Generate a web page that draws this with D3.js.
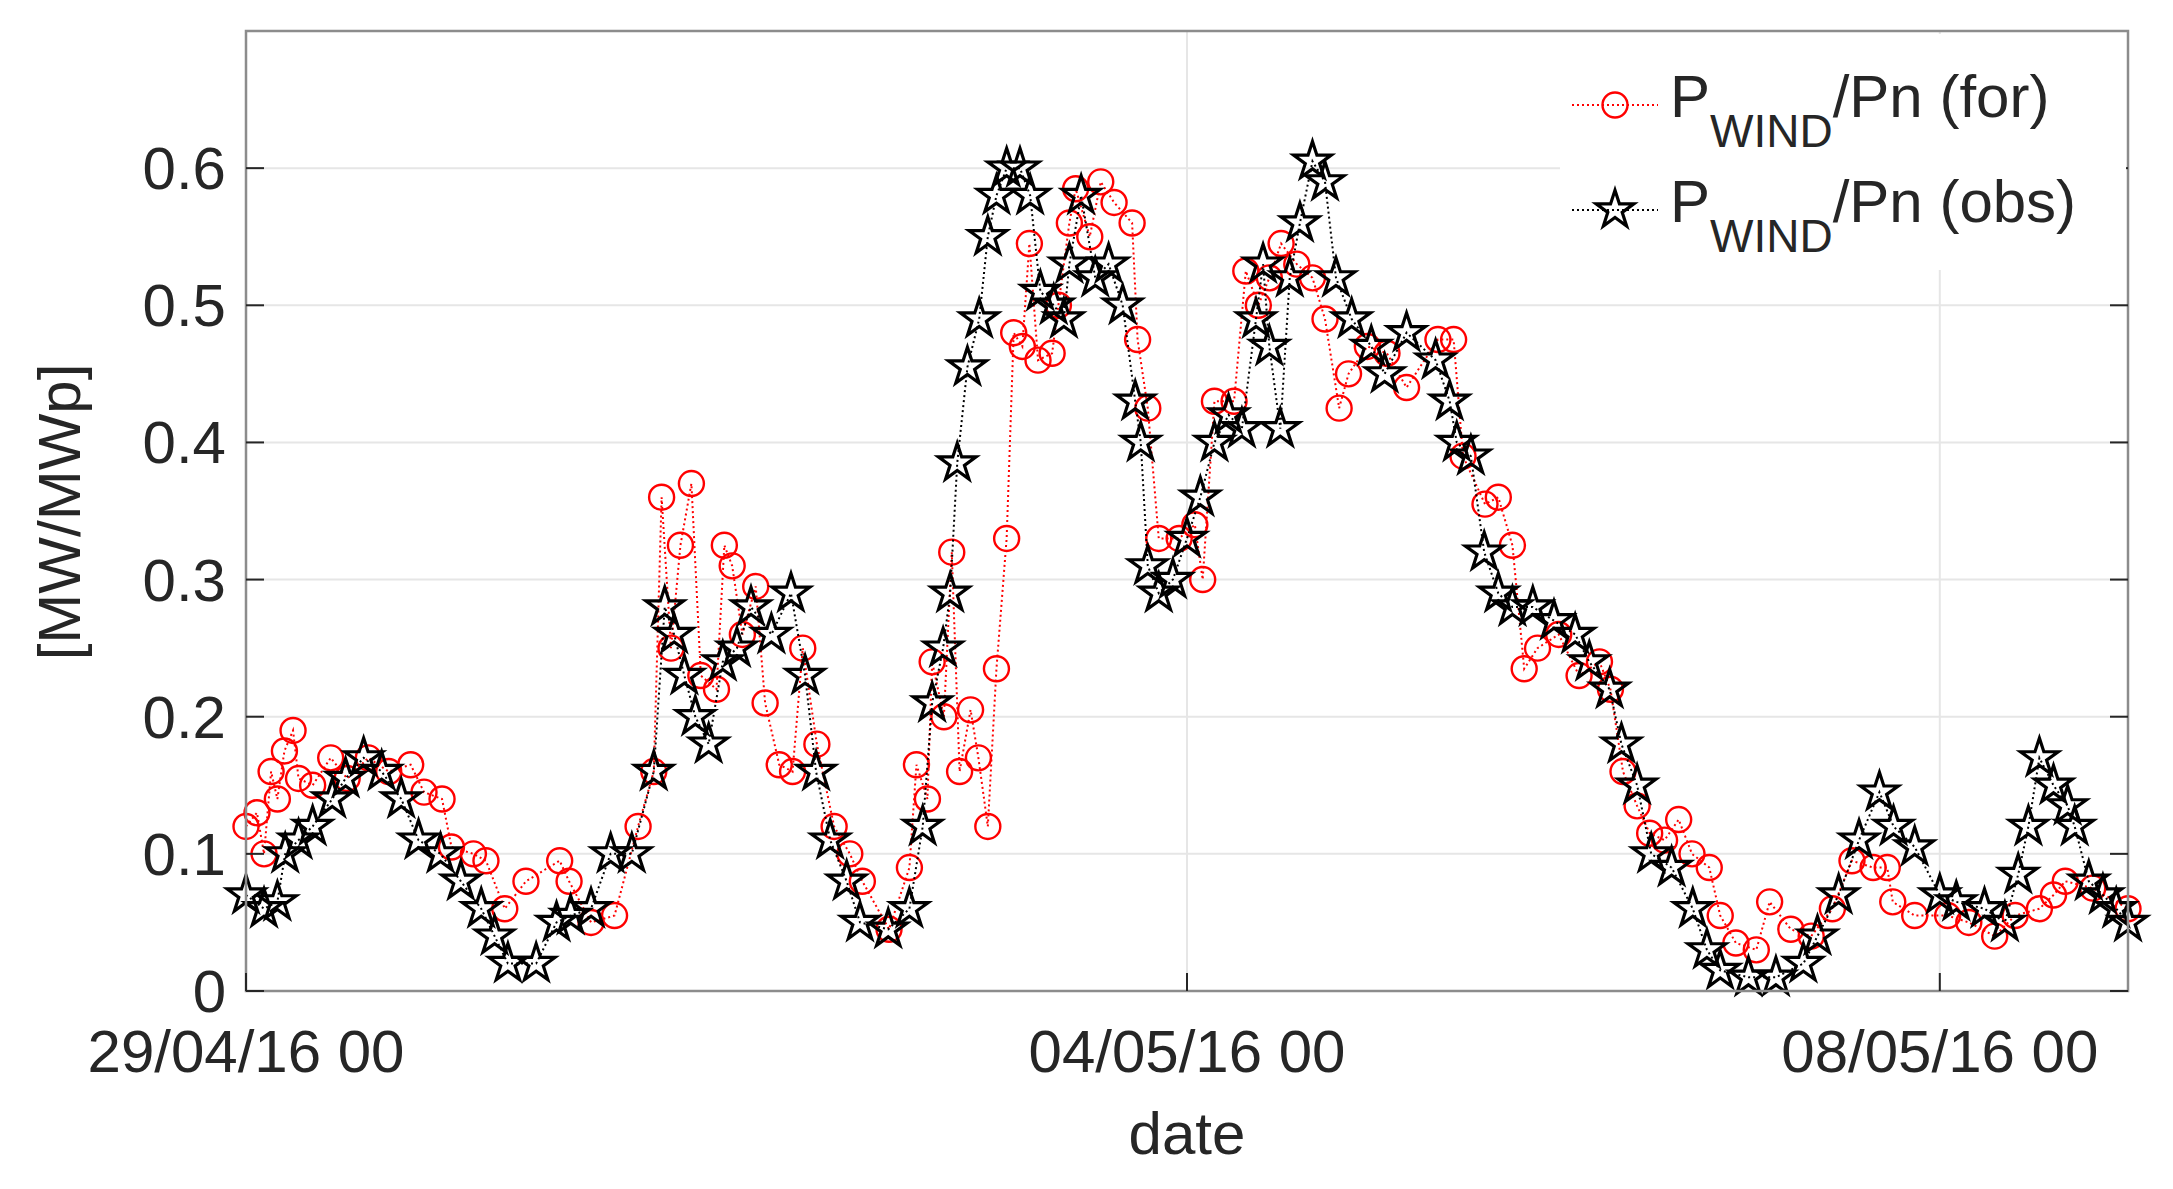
<!DOCTYPE html>
<html>
<head>
<meta charset="utf-8">
<script src="https://cdn.jsdelivr.net/npm/d3@7"></script>
<style>
  body { margin: 0; background: #fff; }
  text { font-family: "Liberation Sans", Arial, sans-serif; fill: #262626; }
</style>
</head>
<body>
<svg id="chart" width="2173" height="1189"></svg>
<script>
// hours since 29/04/16 00:00
var forHours = [0,1.4,2.3,3.2,4,4.9,6,6.7,8.5,10.8,12.9,15.6,18.2,21,22.7,25,26.2,29,30.6,33,35.7,40,41.2,44,47,50,52,53,54.2,55.4,56.8,58,60,61,62,63.3,65,66.2,68,69.7,71,72.8,75,77,78.6,82,84.6,85.5,86.9,87.5,89,90,91,92.4,93.4,94.6,95.7,97,97.9,99,99.9,101,102.8,103.6,105,105.8,107.6,109,110.7,113,113.7,115,116.4,119,121,122,123.5,126,127.5,129.1,130.5,132,134,136,137.6,139.4,140.6,143,145.5,148,152,154,155.2,158,159.7,161.5,163,164.7,167.4,170,172.6,174,175.6,177.4,179,180.9,182.7,184.4,186.6,188,190,192.6,194.3,197,199.6,202.3,204.8,207.5,209.3,210,212.8,217,219.7,223,225.6,228.7,230.5,232,235.5,240];
var forVals = [0.12,0.13,0.10,0.16,0.14,0.175,0.19,0.155,0.15,0.17,0.155,0.17,0.16,0.165,0.145,0.14,0.105,0.10,0.095,0.06,0.08,0.095,0.08,0.05,0.055,0.12,0.16,0.36,0.25,0.325,0.37,0.23,0.22,0.325,0.31,0.26,0.295,0.21,0.165,0.16,0.25,0.18,0.12,0.10,0.08,0.045,0.09,0.165,0.14,0.24,0.20,0.32,0.16,0.205,0.17,0.12,0.235,0.33,0.48,0.47,0.545,0.46,0.465,0.50,0.56,0.585,0.55,0.59,0.575,0.56,0.475,0.425,0.33,0.33,0.34,0.30,0.43,0.43,0.525,0.50,0.52,0.545,0.53,0.52,0.49,0.425,0.45,0.47,0.465,0.44,0.475,0.475,0.39,0.355,0.36,0.325,0.235,0.25,0.26,0.23,0.24,0.22,0.16,0.135,0.115,0.11,0.125,0.10,0.09,0.055,0.035,0.03,0.065,0.045,0.04,0.06,0.095,0.09,0.09,0.065,0.055,0.055,0.05,0.04,0.055,0.06,0.07,0.08,0.075,0.06];
var obsHours = [0,2.3,4,5,6.7,8.5,11,12.7,15,17.3,19.8,22,24.8,27.4,30,31.7,33.4,37,39.6,41.4,44,46.5,49.2,52,53.4,54.6,55.9,57.3,59,60.8,62.6,64.4,67,69.5,71.3,72.7,74.5,76.6,78.3,81.9,84.6,86.3,87.5,88.9,89.8,90.7,92,93.5,94.6,95.7,97,98.7,100,101.3,103,104.3,105,106.5,108.3,110,111.8,113.4,114.1,115,116.4,118.2,120,121.7,123.5,125.3,127,128.8,129.7,130.5,131.9,133.1,134.4,136,137.6,139,141,143.5,145.2,148,151.7,153.5,154.4,156.2,157.9,159.7,161.5,164.1,166.8,169.5,171.3,173.9,175.4,177.4,179.2,181.8,184.5,186.3,188,191.6,195.1,198.6,200.4,203.1,205.7,208.3,210.1,212.8,216,218.1,221.7,224.3,226,227.3,228.7,230.5,232.3,233.2,235,236.8,238.5,240];
var obsVals = [0.07,0.06,0.065,0.10,0.11,0.12,0.14,0.155,0.17,0.16,0.14,0.11,0.10,0.08,0.06,0.04,0.02,0.02,0.05,0.055,0.06,0.10,0.10,0.16,0.28,0.26,0.23,0.20,0.18,0.24,0.25,0.28,0.26,0.29,0.23,0.16,0.11,0.08,0.05,0.045,0.06,0.12,0.21,0.25,0.29,0.385,0.455,0.49,0.55,0.58,0.60,0.60,0.58,0.51,0.50,0.49,0.53,0.58,0.52,0.53,0.50,0.43,0.40,0.31,0.29,0.30,0.33,0.36,0.40,0.42,0.41,0.49,0.53,0.47,0.41,0.52,0.56,0.605,0.59,0.52,0.49,0.47,0.45,0.48,0.46,0.43,0.40,0.39,0.32,0.29,0.28,0.28,0.27,0.26,0.24,0.22,0.18,0.15,0.10,0.09,0.06,0.03,0.015,0.01,0.01,0.02,0.04,0.07,0.11,0.145,0.12,0.105,0.07,0.065,0.06,0.05,0.085,0.12,0.17,0.15,0.135,0.12,0.08,0.07,0.06,0.05];
var yTicks = [0, 0.1, 0.2, 0.3, 0.4, 0.5, 0.6];
var xTicks = [0, 120, 216];
var xTickLabels = ['29/04/16 00', '04/05/16 00', '08/05/16 00'];

var svg = d3.select('#chart');
var m = {left: 246, right: 2128, top: 31, bottom: 991};

var x = d3.scaleLinear().domain([0, 240]).range([m.left, m.right]);
var y = d3.scaleLinear().domain([0, 0.7]).range([m.bottom, m.top]);

// grid
svg.append('g').selectAll('line').data(yTicks.slice(1)).enter().append('line')
    .attr('x1', m.left).attr('x2', m.right)
    .attr('y1', function(d) { return y(d); }).attr('y2', function(d) { return y(d); })
    .style('stroke', '#e6e6e6').style('stroke-width', 2);
svg.append('g').selectAll('line').data(xTicks.slice(1)).enter().append('line')
    .attr('x1', function(d) { return x(d); }).attr('x2', function(d) { return x(d); })
    .attr('y1', m.top).attr('y2', m.bottom)
    .style('stroke', '#e6e6e6').style('stroke-width', 2);

// series
function drawSeries(hours, vals, color) {
    var pts = hours.map(function(h, i) { return [h, vals[i]]; });
    var line = d3.line().x(function(d) { return x(d[0]); }).y(function(d) { return y(d[1]); });
    svg.append('path').datum(pts).attr('d', line)
        .style('fill', 'none').style('stroke', color)
        .style('stroke-width', 2).style('stroke-dasharray', '2,3');
    return pts;
}
var starPath = d3.symbol().type(d3.symbolStar).size(440)();

var forPts = drawSeries(forHours, forVals, '#ff0000');
svg.append('g').selectAll('circle').data(forPts).enter().append('circle')
    .attr('cx', function(d) { return x(d[0]); }).attr('cy', function(d) { return y(d[1]); })
    .attr('r', 12.5).style('fill', 'none').style('stroke', '#ff0000').style('stroke-width', 2.4);

var obsPts = drawSeries(obsHours, obsVals, '#000');
svg.append('g').selectAll('path.star').data(obsPts).enter().append('path')
    .attr('class', 'star').attr('d', starPath)
    .attr('transform', function(d) { return 'translate(' + x(d[0]) + ',' + y(d[1]) + ')'; })
    .style('fill', 'none').style('stroke', '#000').style('stroke-width', 3.2);

// axes box
var axisG = svg.append('g');
axisG.append('rect').attr('x', m.left).attr('y', m.top)
    .attr('width', m.right - m.left).attr('height', m.bottom - m.top)
    .style('fill', 'none').style('stroke', '#8c8c8c').style('stroke-width', 2.5);

yTicks.forEach(function(t) {
    axisG.append('line').attr('x1', m.left).attr('x2', m.left + 18).attr('y1', y(t)).attr('y2', y(t))
        .style('stroke', '#262626').style('stroke-width', 2);
    axisG.append('line').attr('x1', m.right).attr('x2', m.right - 18).attr('y1', y(t)).attr('y2', y(t))
        .style('stroke', '#262626').style('stroke-width', 2);
    axisG.append('text').attr('x', m.left - 20).attr('y', y(t) + 21)
        .attr('text-anchor', 'end').style('font-size', '60px').text(d3.format('')(t));
});
xTicks.forEach(function(t, i) {
    axisG.append('line').attr('x1', x(t)).attr('x2', x(t)).attr('y1', m.bottom).attr('y2', m.bottom - 18)
        .style('stroke', '#262626').style('stroke-width', 2);
    axisG.append('text').attr('x', x(t)).attr('y', 1072)
        .attr('text-anchor', 'middle').style('font-size', '60px').text(xTickLabels[i]);
});
svg.append('text').attr('x', x(120)).attr('y', 1154).attr('text-anchor', 'middle')
    .style('font-size', '60px').text('date');
svg.append('text').attr('transform', 'translate(80,512) rotate(-90)').attr('text-anchor', 'middle')
    .style('font-size', '60px').text('[MW/MWp]');

// legend
var lg = svg.append('g');
lg.append('rect').attr('x', 1560).attr('y', 34).attr('width', 566).attr('height', 236).style('fill', '#fff');
[{label: 'for', color: '#ff0000', cy: 105}, {label: 'obs', color: '#000', cy: 210}].forEach(function(d, i) {
    lg.append('line').attr('x1', 1572).attr('x2', 1658).attr('y1', d.cy).attr('y2', d.cy)
        .style('stroke', d.color).style('stroke-width', 2).style('stroke-dasharray', '2,3');
    if (i == 0) {
        lg.append('circle').attr('cx', 1615).attr('cy', d.cy).attr('r', 12.5)
            .style('fill', 'none').style('stroke', d.color).style('stroke-width', 2.4);
    } else {
        lg.append('path').attr('d', starPath).attr('transform', 'translate(1615,' + d.cy + ')')
            .style('fill', 'none').style('stroke', d.color).style('stroke-width', 3.2);
    }
    var t = lg.append('text').attr('x', 1670).attr('y', d.cy + 12).style('font-size', '60px');
    t.append('tspan').text('P');
    t.append('tspan').attr('dy', 30).style('font-size', '46px').text('WIND');
    t.append('tspan').attr('dy', -30).text('/Pn (' + d.label + ')');
});
</script>
</body>
</html>
